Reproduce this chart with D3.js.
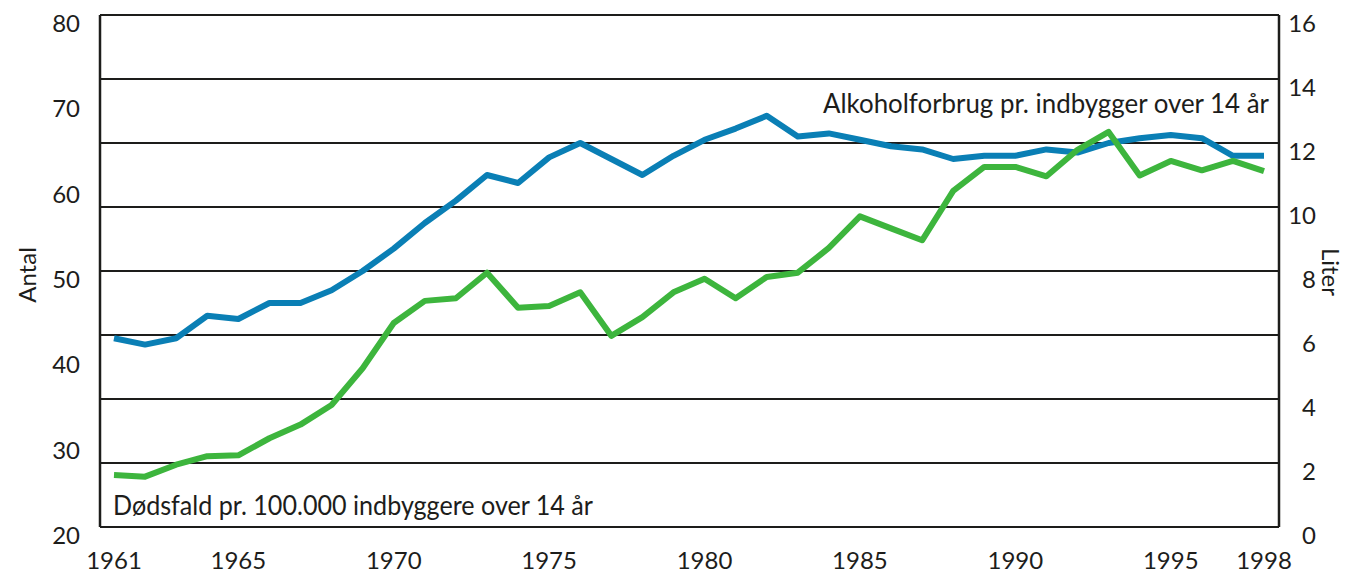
<!DOCTYPE html>
<html>
<head>
<meta charset="utf-8">
<script src="https://cdn.jsdelivr.net/npm/d3@7"></script>
<style>
  body { margin: 0; background: #fff; }
  svg { display: block; font-family: Lato, "Open Sans", sans-serif; }
</style>
</head>
<body>
<div id="chart"></div>
<script>
// data
const years = d3.range(1961, 1999);
// Alkoholforbrug, liter pr. indbygger over 14 år (right axis)
const alkohol = [5.9, 5.7, 5.9, 6.6, 6.5, 7.0, 7.0, 7.4, 8.0, 8.7,
                 9.5, 10.2, 11.0, 10.75, 11.55, 12.0, 11.5, 11.0, 11.6, 12.1,
                 12.45, 12.85, 12.2, 12.3, 12.1, 11.9, 11.8, 11.5, 11.6, 11.6,
                 11.8, 11.7, 12.0, 12.15, 12.25, 12.15, 11.6, 11.6];
// Dødsfald pr. 100.000 indbyggere over 14 år (left axis)
const doedsfald = [26.1, 25.9, 27.3, 28.3, 28.4, 30.4, 32.0, 34.3, 38.6, 43.9,
                   46.5, 46.8, 49.8, 45.7, 45.9, 47.5, 42.4, 44.6, 47.5, 49.1,
                   46.8, 49.3, 49.8, 52.7, 56.4, 55.0, 53.6, 59.4, 62.2, 62.2,
                   61.1, 64.2, 66.3, 61.2, 62.9, 61.8, 62.9, 61.7];
const yearTicks = [1961, 1965, 1970, 1975, 1980, 1985, 1990, 1995, 1998];
const leftTicks = [20, 30, 40, 50, 60, 70, 80];
const rightTicks = [0, 2, 4, 6, 8, 10, 12, 14, 16];

const W = 1348, H = 575;
const frame = {left: 100, right: 1279, top: 15, bottom: 527};

const svg = d3.select('#chart').append('svg')
    .attr('width', W)
    .attr('height', H);

const x = d3.scaleLinear()
    .domain([1961, 1998])
    .range([114, 1264]);

const yLeft = d3.scaleLinear()
    .domain([20, 80])
    .range([frame.bottom, frame.top]);

const yRight = d3.scaleLinear()
    .domain([0, 16])
    .range([frame.bottom, frame.top]);

const ink = '#1d1d1b';

// horizontal grid lines follow the right axis
svg.append('g')
    .selectAll('line')
    .data(rightTicks)
    .enter()
    .append('line')
        .attr('x1', frame.left)
        .attr('x2', frame.right)
        .attr('y1', d => yRight(d))
        .attr('y2', d => yRight(d))
        .style('stroke', ink)
        .style('stroke-width', 2);

// side borders
svg.append('line')
    .attr('x1', frame.left).attr('x2', frame.left)
    .attr('y1', frame.top).attr('y2', frame.bottom)
    .style('stroke', ink).style('stroke-width', 2.5);
svg.append('line')
    .attr('x1', frame.right).attr('x2', frame.right)
    .attr('y1', frame.top).attr('y2', frame.bottom)
    .style('stroke', ink).style('stroke-width', 2.5);

// tick labels
const labelSize = '24px';
svg.append('g')
    .selectAll('text')
    .data(leftTicks)
    .enter()
    .append('text')
        .attr('x', 80)
        .attr('y', d => yLeft(d) + 17)
        .attr('text-anchor', 'end')
        .style('font-size', labelSize)
        .style('fill', ink)
        .text(d => d);

svg.append('g')
    .selectAll('text')
    .data(rightTicks)
    .enter()
    .append('text')
        .attr('x', 1316)
        .attr('y', d => yRight(d) + 17)
        .attr('text-anchor', 'end')
        .style('font-size', labelSize)
        .style('fill', ink)
        .text(d => d);

svg.append('g')
    .selectAll('text')
    .data(yearTicks)
    .enter()
    .append('text')
        .attr('x', d => x(d))
        .attr('y', 569)
        .attr('text-anchor', 'middle')
        .style('font-size', labelSize)
        .style('fill', ink)
        .text(d => d);

// axis titles
svg.append('text')
    .attr('transform', 'translate(36,275) rotate(-90)')
    .attr('text-anchor', 'middle')
    .style('font-size', labelSize)
    .style('fill', ink)
    .text('Antal');

svg.append('text')
    .attr('transform', 'translate(1322,272) rotate(90)')
    .attr('text-anchor', 'middle')
    .style('font-size', labelSize)
    .style('fill', ink)
    .text('Liter');

// the two series
const lineL = d3.line()
    .x((d, i) => x(years[i]))
    .y(d => yLeft(d));
const lineR = d3.line()
    .x((d, i) => x(years[i]))
    .y(d => yRight(d));

svg.append('path')
    .datum(alkohol)
    .attr('d', lineR)
    .style('fill', 'none')
    .style('stroke', '#0a7fb5')
    .style('stroke-width', 6)
    .style('stroke-linejoin', 'round');

svg.append('path')
    .datum(doedsfald)
    .attr('d', lineL)
    .style('fill', 'none')
    .style('stroke', '#3db53d')
    .style('stroke-width', 6)
    .style('stroke-linejoin', 'round');

// series labels
svg.append('text')
    .attr('x', 1269)
    .attr('y', 113)
    .attr('text-anchor', 'end')
    .attr('textLength', 446)
    .attr('lengthAdjust', 'spacingAndGlyphs')
    .style('font-size', '26px')
    .style('fill', ink)
    .text('Alkoholforbrug pr. indbygger over 14 år');

svg.append('text')
    .attr('x', 113)
    .attr('y', 515)
    .attr('textLength', 480)
    .attr('lengthAdjust', 'spacingAndGlyphs')
    .style('font-size', '26px')
    .style('fill', ink)
    .text('Dødsfald pr. 100.000 indbyggere over 14 år');
</script>
</body>
</html>
